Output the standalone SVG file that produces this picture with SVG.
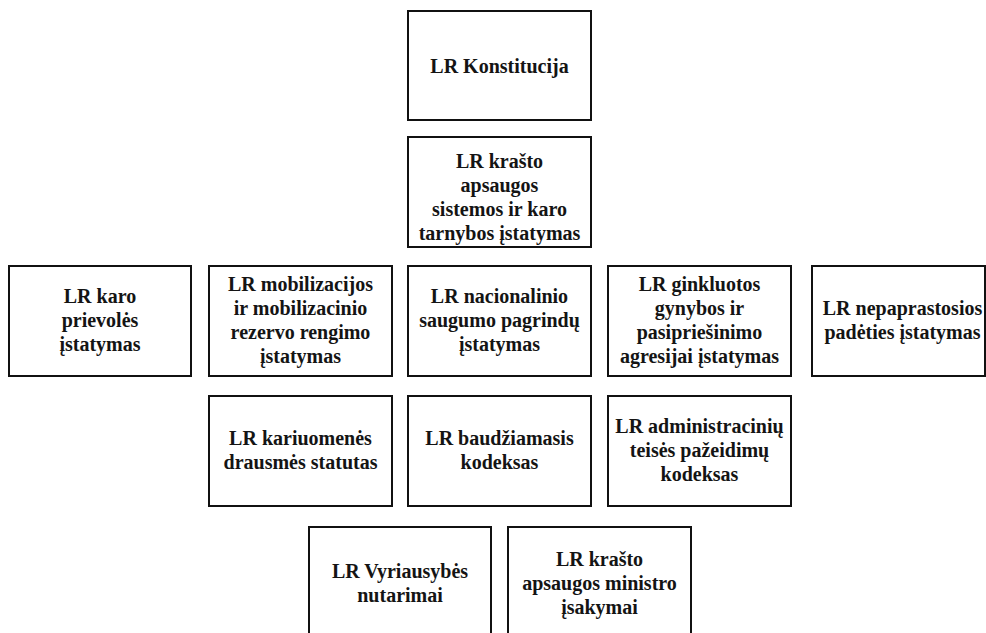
<svg xmlns="http://www.w3.org/2000/svg" width="986" height="633" viewBox="0 0 986 633">
<style>
.box{fill:#fff;stroke:#111;stroke-width:2}
.t{font-family:"Liberation Serif","Times New Roman",serif;font-weight:bold;font-size:20px;fill:#141414;text-anchor:middle}
</style>
<rect width="986" height="633" fill="#fff"/>
<g id="connectors"></g>
<g id="n1"><rect class="box" x="408" y="11" width="183" height="109"/>
<text class="t" x="499.5" y="73">LR Konstitucija</text></g>
<g id="n2"><rect class="box" x="408" y="137" width="183" height="110"/>
<text class="t" x="499.5" y="168">LR krašto<tspan x="499.5" dy="24">apsaugos</tspan><tspan x="499.5" dy="24">sistemos ir karo</tspan><tspan x="499.5" dy="24">tarnybos įstatymas</tspan></text></g>
<g id="n3"><rect class="box" x="9" y="266" width="182" height="110"/>
<text class="t" x="100" y="303">LR karo<tspan x="100" dy="24">prievolės</tspan><tspan x="100" dy="24">įstatymas</tspan></text></g>
<g id="n4"><rect class="box" x="209" y="266" width="183" height="110"/>
<text class="t" x="300.5" y="291">LR mobilizacijos<tspan x="300.5" dy="24">ir mobilizacinio</tspan><tspan x="300.5" dy="24">rezervo rengimo</tspan><tspan x="300.5" dy="24">įstatymas</tspan></text></g>
<g id="n5"><rect class="box" x="408" y="266" width="183" height="110"/>
<text class="t" x="499.5" y="303">LR nacionalinio<tspan x="499.5" dy="24">saugumo pagrindų</tspan><tspan x="499.5" dy="24">įstatymas</tspan></text></g>
<g id="n6"><rect class="box" x="608" y="266" width="183" height="110"/>
<text class="t" x="699.5" y="291">LR ginkluotos<tspan x="699.5" dy="24">gynybos ir</tspan><tspan x="699.5" dy="24">pasipriešinimo</tspan><tspan x="699.5" dy="24">agresijai įstatymas</tspan></text></g>
<g id="n7"><rect class="box" x="812" y="266" width="173" height="110"/>
<text class="t" x="902.5" y="315">LR nepaprastosios<tspan x="902.5" dy="24">padėties įstatymas</tspan></text></g>
<g id="n8"><rect class="box" x="209" y="396" width="183" height="110"/>
<text class="t" x="300.5" y="445">LR kariuomenės<tspan x="300.5" dy="24">drausmės statutas</tspan></text></g>
<g id="n9"><rect class="box" x="408" y="396" width="183" height="110"/>
<text class="t" x="499.5" y="445">LR baudžiamasis<tspan x="499.5" dy="24">kodeksas</tspan></text></g>
<g id="n10"><rect class="box" x="608" y="396" width="183" height="110"/>
<text class="t" x="699.5" y="433">LR administracinių<tspan x="699.5" dy="24">teisės pažeidimų</tspan><tspan x="699.5" dy="24">kodeksas</tspan></text></g>
<g id="n11"><rect class="box" x="309" y="527" width="182" height="115"/>
<text class="t" x="400" y="578">LR Vyriausybės<tspan x="400" dy="24">nutarimai</tspan></text></g>
<g id="n12"><rect class="box" x="508" y="527" width="183" height="115"/>
<text class="t" x="599.5" y="566">LR krašto<tspan x="599.5" dy="24">apsaugos ministro</tspan><tspan x="599.5" dy="24">įsakymai</tspan></text></g>
</svg>
